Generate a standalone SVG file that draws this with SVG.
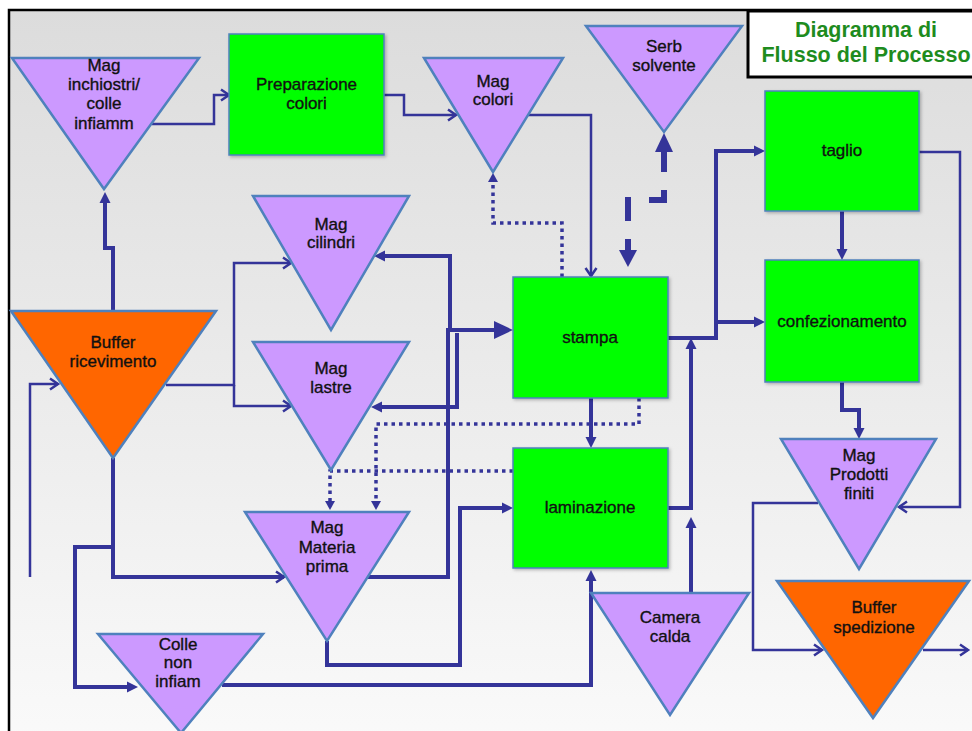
<svg xmlns="http://www.w3.org/2000/svg" width="972" height="731" viewBox="0 0 972 731">
<defs>
<linearGradient id="bg" x1="0" y1="0" x2="0" y2="1">
<stop offset="0" stop-color="#dcdcdc"/>
<stop offset="1" stop-color="#fafafa"/>
</linearGradient>
<filter id="sh" x="-10%" y="-10%" width="125%" height="125%">
<feDropShadow dx="1.5" dy="1.5" stdDeviation="1.5" flood-color="#000" flood-opacity="0.25"/>
</filter>
<marker id="ao" markerUnits="userSpaceOnUse" markerWidth="14" markerHeight="14" refX="10" refY="6" orient="auto" overflow="visible">
<path d="M2,0.5 L10,6 L2,11.5" fill="none" stroke="#343499" stroke-width="2.5"/>
</marker>
<marker id="af" markerUnits="userSpaceOnUse" markerWidth="14" markerHeight="14" refX="4" refY="5.5" orient="auto" overflow="visible">
<path d="M0,0 L11,5.5 L0,11 z" fill="#343499"/>
</marker>
<marker id="ab" markerUnits="userSpaceOnUse" markerWidth="22" markerHeight="22" refX="6" refY="9" orient="auto" overflow="visible">
<path d="M0,0 L19,9 L0,18 z" fill="#343499"/>
</marker>
<marker id="ad" markerUnits="userSpaceOnUse" markerWidth="12" markerHeight="12" refX="3" refY="5" orient="auto" overflow="visible">
<path d="M0,0 L9,5 L0,10 z" fill="#343499"/>
</marker>
</defs>
<style>
.tri{fill:#cc99ff;stroke:#4f81bd;stroke-width:2.5;stroke-linejoin:miter}
.org{fill:#ff6600;stroke:#4f81bd;stroke-width:2.5}
.box{fill:#00ff00;stroke:#4f81bd;stroke-width:1.5;filter:url(#sh)}
.t{font-family:"Liberation Sans",Arial,sans-serif;font-size:17px;fill:#111;stroke:#111;stroke-width:0.35;text-anchor:middle}
.ttl{font-family:"Liberation Sans",Arial,sans-serif;font-size:21.5px;font-weight:bold;fill:#1e8c1e;text-anchor:middle}
.c{fill:none;stroke:#343499;stroke-linejoin:miter}
.thin{stroke-width:2.5}
.thick{stroke-width:4}
.dot{stroke-width:3.5;stroke-dasharray:3.5 4}
.dash{fill:none;stroke:#343499;stroke-width:6}
</style>
<rect x="0" y="0" width="972" height="731" fill="#fff"/>
<rect x="9" y="10" width="990" height="740" fill="url(#bg)" stroke="#000" stroke-width="2.5"/>

<g id="connectors">
<path class="c thick" d="M113,311 V248 H105 V199" marker-end="url(#af)"/>
<path class="c thin" d="M152,124 H214 V95 H229" marker-end="url(#ao)"/>
<path class="c thin" d="M384,95 H404 V115 H456" marker-end="url(#ao)"/>
<path class="c thin" d="M528,115 H591 V276" marker-end="url(#ao)"/>
<path class="c dot" d="M562,277 V223 H493 V179" marker-end="url(#ad)"/>
<path class="dash" d="M628,239 V251"/>
<polygon points="619,250 637,250 628,267" fill="#343499"/>
<path class="dash" d="M628,197 V221"/>
<path class="dash" d="M649,200 H664 V190"/>
<path class="dash" d="M664,150 V172"/>
<polygon points="655,152 673,152 664,133" fill="#343499"/>
<path class="c thin" d="M166,385 H234 V263 H291" marker-end="url(#ao)"/>
<path class="c thin" d="M234,385 V406 H291" marker-end="url(#ao)"/>
<path class="c thick" d="M365,577 H448 V330 H500" marker-end="url(#ab)"/>
<path class="c thick" d="M450,330 V256 H381" marker-end="url(#af)"/>
<path class="c thick" d="M457,333 V407 H378" marker-end="url(#af)"/>
<path class="c dot" d="M639,398 V424 H376 V504" marker-end="url(#ad)"/>
<path class="c dot" d="M513,471 H330 V504" marker-end="url(#ad)"/>
<path class="c thick" d="M591,398 V441" marker-end="url(#af)"/>
<path class="c thick" d="M327,641 V665 H460 V508 H506" marker-end="url(#af)"/>
<path class="c thick" d="M113,458 V577 H284" marker-end="url(#ao)"/>
<path class="c thick" d="M113,547 H75 V687 H131" marker-end="url(#af)"/>
<path class="c thin" d="M30,577 V384 H58" marker-end="url(#ao)"/>
<path class="c thick" d="M222,685 H591 V577" marker-end="url(#af)"/>
<path class="c thick" d="M691,593 V524" marker-end="url(#af)"/>
<path class="c thick" d="M668,508 H691 V345" marker-end="url(#af)"/>
<path class="c thick" d="M668,338 H716 V151 H758" marker-end="url(#af)"/>
<path class="c thick" d="M716,322 H758" marker-end="url(#af)"/>
<path class="c thick" d="M842,211 V253" marker-end="url(#af)"/>
<path class="c thin" d="M919,152 H960 V507 H899" marker-end="url(#ao)"/>
<path class="c thick" d="M842,382 V410 H859 V432" marker-end="url(#af)"/>
<path class="c thin" d="M818,503 H753 V650 H822" marker-end="url(#ao)"/>
<path class="c thin" d="M923,650 H968" marker-end="url(#ao)"/>
</g>

<g id="title">
<rect x="748" y="11" width="240" height="66" fill="#fff" stroke="#000" stroke-width="3"/>
<text class="ttl" x="866" y="37">Diagramma di</text>
<text class="ttl" x="866" y="62">Flusso del Processo</text>
</g>

<g id="mag-inchiostri">
<polygon class="tri" points="12,58 199,58 104,189"/>
<text class="t" x="104" y="71">Mag</text>
<text class="t" x="104" y="90">inchiostri/</text>
<text class="t" x="104" y="109">colle</text>
<text class="t" x="104" y="129">infiamm</text>
</g>
<g id="preparazione-colori">
<rect class="box" x="229" y="34" width="155" height="121"/>
<text class="t" x="306.5" y="90">Preparazione</text>
<text class="t" x="306.5" y="109">colori</text>
</g>
<g id="mag-colori">
<polygon class="tri" points="424,58 563,58 493,172"/>
<text class="t" x="493" y="87">Mag</text>
<text class="t" x="493" y="105">colori</text>
</g>
<g id="serb-solvente">
<polygon class="tri" points="586,26 742,26 664,132"/>
<text class="t" x="664" y="52">Serb</text>
<text class="t" x="664" y="71">solvente</text>
</g>
<g id="mag-cilindri">
<polygon class="tri" points="253,196 409,196 331,330"/>
<text class="t" x="331" y="230">Mag</text>
<text class="t" x="331" y="248">cilindri</text>
</g>
<g id="mag-lastre">
<polygon class="tri" points="253,342 409,342 331,470"/>
<text class="t" x="331" y="374">Mag</text>
<text class="t" x="331" y="393">lastre</text>
</g>
<g id="buffer-ricevimento">
<polygon class="org" points="11,311 216,311 113,458"/>
<text class="t" x="113" y="348">Buffer</text>
<text class="t" x="113" y="367">ricevimento</text>
</g>
<g id="mag-materia-prima">
<polygon class="tri" points="245,512 409,512 327,641"/>
<text class="t" x="327" y="533">Mag</text>
<text class="t" x="327" y="553">Materia</text>
<text class="t" x="327" y="572">prima</text>
</g>
<g id="colle-non-infiam">
<polygon class="tri" points="98,634 263,634 181,733"/>
<text class="t" x="178" y="650">Colle</text>
<text class="t" x="178" y="668">non</text>
<text class="t" x="178" y="687">infiam</text>
</g>
<g id="stampa">
<rect class="box" x="513" y="277" width="155" height="121"/>
<text class="t" x="590" y="343">stampa</text>
</g>
<g id="laminazione">
<rect class="box" x="513" y="448" width="155" height="120"/>
<text class="t" x="590" y="513">laminazione</text>
</g>
<g id="taglio">
<rect class="box" x="765" y="91" width="154" height="120"/>
<text class="t" x="842" y="156">taglio</text>
</g>
<g id="confezionamento">
<rect class="box" x="765" y="260" width="154" height="122"/>
<text class="t" x="842" y="327">confezionamento</text>
</g>
<g id="mag-prodotti-finiti">
<polygon class="tri" points="781,439 936,439 859,569"/>
<text class="t" x="859" y="461">Mag</text>
<text class="t" x="859" y="480">Prodotti</text>
<text class="t" x="859" y="499">finiti</text>
</g>
<g id="camera-calda">
<polygon class="tri" points="591,593 749,593 670,715"/>
<text class="t" x="670" y="623">Camera</text>
<text class="t" x="670" y="642">calda</text>
</g>
<g id="buffer-spedizione">
<polygon class="org" points="777,581 969,581 873,718"/>
<text class="t" x="874" y="613">Buffer</text>
<text class="t" x="874" y="633">spedizione</text>
</g>
</svg>
